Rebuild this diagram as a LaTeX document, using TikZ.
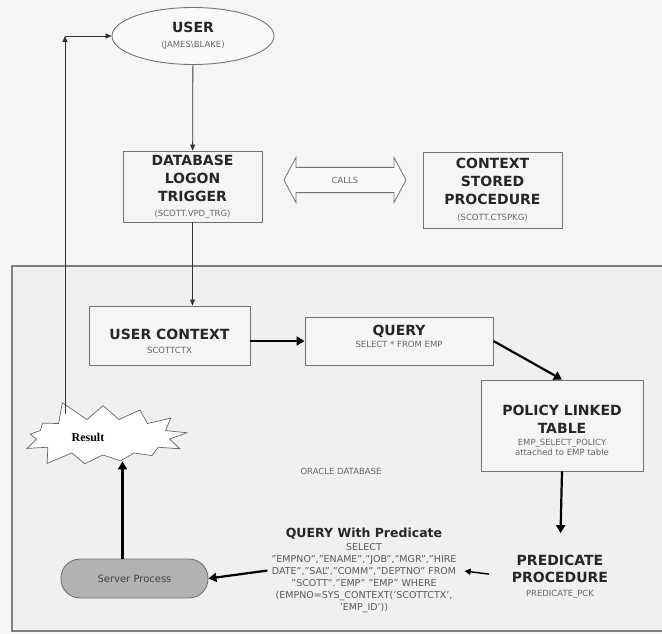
\documentclass[tikz,border=0pt]{standalone}
\usepackage{fontspec}
\setmainfont{DejaVu Sans}
\newfontfamily\resfont{Liberation Serif}
\usetikzlibrary{shapes.geometric,shapes.symbols,shapes.arrows,arrows.meta}

\newcommand{\hd}{\fontsize{14}{18}\selectfont\bfseries\color{black!85}}
\newcommand{\sm}{\fontsize{8.5}{11}\selectfont\mdseries\color{black!60}}

\tikzset{
	box/.style={draw=black!55, line width=0.9pt, fill=white!96!black, align=center, inner sep=0pt, font=\hd},
	thin arrow/.style={draw=black!80, line width=0.8pt, -{Triangle[length=6pt,width=5pt]}},
	thick arrow/.style={draw=black, line width=2.2pt, -{Triangle[length=8pt,width=9pt]}},
}

\begin{document}
\begin{tikzpicture}[x=1pt,y=-1pt]
	\useasboundingbox (0,0) rectangle (662,634);
	\fill[white!96!black] (0,0) rectangle (662,634);
	% oracle database area
	\draw[black!50, line width=1.3pt, fill=white!94!black] (12,266) rectangle (680,631);
	\node[font=\sm] (oracle) at (341,471) {ORACLE DATABASE};

	\node[ellipse, box, fill=white!98!black, minimum width=162pt, minimum height=57pt] (user) at (193,36)
		{USER\\[-3pt]\sm (JAMES\textbackslash BLAKE)};
	\node[box, minimum width=139pt, minimum height=71pt] (dbtrig) at (192.5,186.5)
		{DATABASE\\LOGON\\TRIGGER\\[-3pt]\sm (SCOTT.VPD\_TRG)};
	\node[double arrow, draw=black!55, line width=0.8pt, fill=white!98!black, minimum height=122pt,
		double arrow head extend=10pt, double arrow tip angle=124, inner ysep=9pt, font=\sm] (calls) at (345,180) {CALLS};
	\node[box, minimum width=139pt, minimum height=76pt] (ctxproc) at (492.5,190)
		{CONTEXT\\STORED\\PROCEDURE\\[-2pt]\sm (SCOTT.CTSPKG)};

	\node[box, minimum width=161pt, minimum height=59pt] (userctx) at (169.5,335.5)
		{\rule{0pt}{22pt}USER CONTEXT\\[-4pt]\sm SCOTTCTX};
	\node[box, minimum width=188pt, minimum height=48pt] (query) at (399,341)
		{QUERY\\[-6pt]\sm SELECT * FROM EMP\rule[-9pt]{0pt}{9pt}};
	\node[box, minimum width=162pt, minimum height=91pt] (policy) at (562,425.5)
		{\rule{0pt}{21pt}POLICY LINKED\\TABLE\\[-6pt]\sm EMP\_SELECT\_POLICY\\[-8pt]\sm attached to EMP table};
	\node[align=center, inner sep=0pt, font=\hd] (predproc) at (560,577)
		{PREDICATE\\[-1pt]PROCEDURE\\[-4pt]\sm PREDICATE\_PCK};
	\node[align=center, inner sep=0pt, font=\fontsize{9.5}{12}\selectfont\color{black!65}] (qpred) at (364,570)
		{\fontsize{12.5}{14}\selectfont\bfseries\color{black!85}QUERY With Predicate\\[1pt]
		SELECT\\
		"EMPNO","ENAME","JOB","MGR","HIRE\\
		DATE","SAL","COMM","DEPTNO" FROM\\
		"SCOTT"."EMP" "EMP" WHERE\\
		(EMPNO=SYS\_CONTEXT('SCOTTCTX',\\
		'EMP\_ID'))};
	\node[draw=black!55, line width=0.9pt, fill=black!30, rounded corners=19pt, minimum width=147pt,
		minimum height=39pt, font=\fontsize{10}{12}\selectfont\color{black!75}] (server) at (134.5,578.5) {Server Process};
	\node[starburst, draw=black!60, line width=0.7pt, fill=white, starburst points=13,
		starburst point height=22pt, random starburst=5, minimum width=178pt, minimum height=80pt,
		font=\resfont\fontsize{12}{12}\selectfont\bfseries] (burst) at (103,437) {Result\hspace*{30pt}};

	\coordinate (retfoot) at (65,414);
	\coordinate (retcorner) at (65,36);

	\draw[thin arrow] (user) -- (dbtrig);
	\draw[thin arrow] (dbtrig.south) -- (dbtrig.south |- userctx.north);
	\draw[thin arrow] (retfoot) -- (retcorner);
	\draw[thin arrow] (retcorner) -- (user.west);

	\draw[thick arrow] (userctx.east |- query.west) -- (query.west);
	\draw[thick arrow] (query.east) -- (policy.north);
	\draw[thick arrow, shorten >=22pt] (policy.south) -- (predproc.north);
	\draw[line width=1.4pt, -{Triangle[length=6pt,width=6pt]}, shorten <=23pt, shorten >=8pt] (predproc.west) -- (qpred.east);
	\draw[thick arrow, shorten <=4pt] (qpred.west) -- (server.east);
	\draw[thick arrow] ([xshift=-12pt]server.north) -- ([xshift=-12pt,yshift=-6pt]server.north |- burst.south);
\end{tikzpicture}
\end{document}
